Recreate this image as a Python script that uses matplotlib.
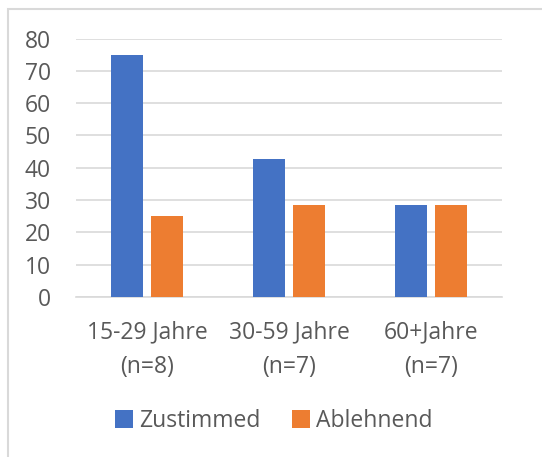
import matplotlib.pyplot as plt
import numpy as np
from matplotlib.patches import Rectangle

plt.rcParams['font.family'] = ['Open Sans', 'DejaVu Sans']

# Zustimmung nach Altersgruppe (Prozent)
categories = ["15-29 Jahre\n(n=8)", "30-59 Jahre\n(n=7)", "60+Jahre\n(n=7)"]
zustimmend = [75.0, 42.86, 28.57]
ablehnend = [25.0, 28.57, 28.57]
series_names = ["Zustimmed", "Ablehnend"]
yticks = [0, 10, 20, 30, 40, 50, 60, 70, 80]

text_color = "#595959"
grid_color = "#d9d9d9"
fs = 16.5

fig = plt.figure(figsize=(5.42, 4.57), dpi=100)
ax = fig.add_axes([76 / 542, 1 - 297 / 457, 426 / 542, 258.5 / 457])

x = np.arange(len(categories))
w = 32 / 142
off = 20 / 142
ax.bar(x - off, zustimmend, w, color="#4472C4", label=series_names[0], zorder=3)
ax.bar(x + off, ablehnend, w, color="#ED7D31", label=series_names[1], zorder=3)

ax.set_xlim(-0.5, len(categories) - 0.5)
ax.set_ylim(0, 80)
ax.set_yticks(yticks)
ax.set_yticklabels([str(v) for v in yticks])
ax.set_xticks(x)
ax.set_xticklabels(categories, linespacing=1.55)

ax.yaxis.grid(True, color=grid_color, linewidth=1.2, zorder=0)
for side in ["top", "right", "left"]:
    ax.spines[side].set_visible(False)
ax.spines["bottom"].set_color(grid_color)
ax.spines["bottom"].set_linewidth(1.2)
ax.tick_params(axis="both", length=0, labelsize=fs, colors=text_color)
ax.tick_params(axis="y", pad=18)
ax.tick_params(axis="x", pad=17)

fig.legend(loc="center", bbox_to_anchor=(0.505, 1 - 421 / 457), ncol=2,
           frameon=False, fontsize=fs, labelcolor=text_color,
           handlelength=0.8, handleheight=0.8, handletextpad=0.28,
           columnspacing=1.35)

# Rahmen des Diagrammbereichs
fig.patches.append(Rectangle((8 / 542, -0.1), 1.2, 1 - 9 / 457 + 0.1,
                             transform=fig.transFigure, fill=False,
                             edgecolor=grid_color, linewidth=1.5))

fig.savefig("out.png", dpi=100)
